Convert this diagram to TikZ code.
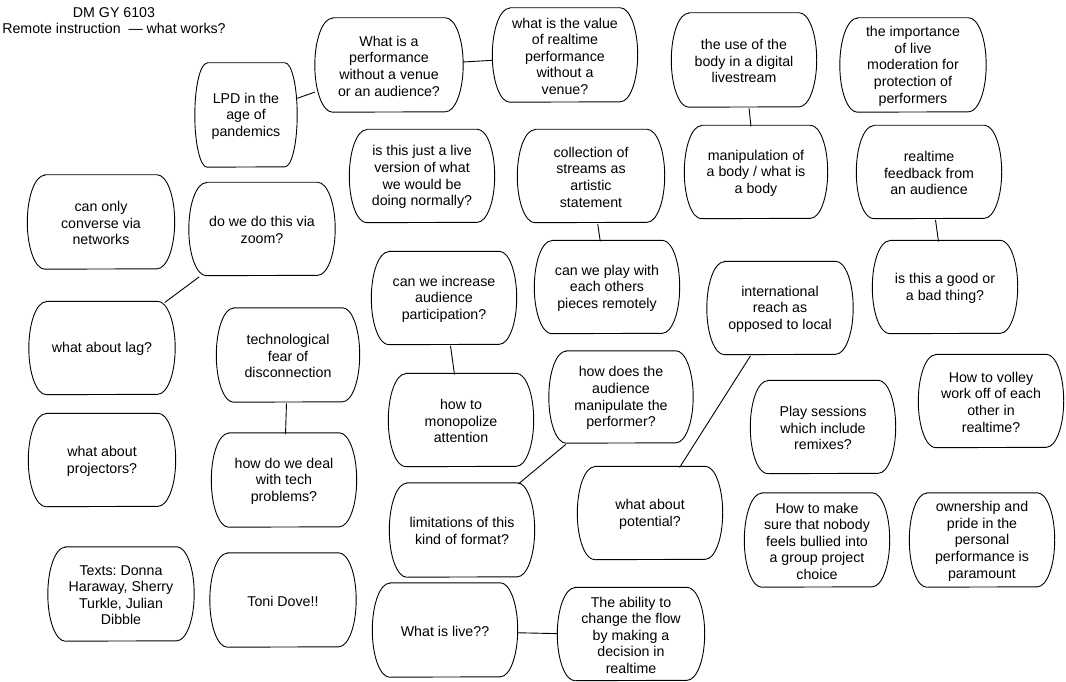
\documentclass[tikz,border=0pt]{standalone}
\usepackage{fontspec}
\setmainfont{Liberation Sans}
\frenchspacing
\begin{document}
\begin{tikzpicture}[x=1pt,y=1pt,
  txt/.style={font=\fontsize{14.2}{16.6}\selectfont, align=center, inner sep=0pt, text=black},
  shp/.style={draw=black, line width=0.9pt},
  conn/.style={draw=black, line width=0.9pt}]
\fill[white] (0,0) rectangle (1066,-682);
\useasboundingbox (0,0) rectangle (1066,-682);
\newcommand\bubble[6]{%
  \node[txt, minimum width=#4pt, minimum height=#5pt] (#1) at (#2,-#3-1.2) {#6};
  \pgfmathsetmacro\rr{0.12*#4}%
  \pgfmathsetmacro\hh{#5/2}%
  \draw[shp] ([xshift=\rr pt, yshift=1.2pt]#1.north west) -- ([xshift=-\rr pt, yshift=1.2pt]#1.north east)
     arc[start angle=90, end angle=-90, x radius=\rr pt, y radius=\hh pt]
     -- ([xshift=\rr pt, yshift=1.2pt]#1.south west)
     arc[start angle=270, end angle=90, x radius=\rr pt, y radius=\hh pt] -- cycle;
}
\node[txt] (title) at (114,-20.5) {DM GY 6103\\Remote instruction\ \ — what works?};
\bubble{lpd}{246}{115}{102}{104}{LPD in the\\age of\\pandemics}
\bubble{perf}{389}{65}{148}{94}{What is a\\performance\\without a venue\\or an audience?}
\bubble{value}{565}{55}{145}{94}{what is the value\\of realtime\\performance\\without a\\venue?}
\bubble{body}{744}{60}{145}{94}{the use of the\\body in a digital\\livestream}
\bubble{moder}{913}{65}{146}{94}{the importance\\of live\\moderation for\\protection of\\performers}
\bubble{just}{422}{176}{145}{93}{is this just a live\\version of what\\we would be\\doing normally?}
\bubble{coll}{591}{176}{147}{93}{collection of\\streams as\\artistic\\statement}
\bubble{manip}{756}{172}{143}{93}{manipulation of\\a body / what is\\a body}
\bubble{feed}{929}{172}{145}{93}{realtime\\feedback from\\an audience}
\bubble{good}{945}{287}{145}{93}{is this a good or\\a bad thing?}
\bubble{intl}{780}{308}{146}{93}{international\\reach as\\opposed to local}
\bubble{conv}{101}{222}{147}{94}{can only\\converse via\\networks}
\bubble{zoom}{262}{229}{146}{93}{do we do this via\\zoom?}
\bubble{lag}{102}{348}{146}{93}{what about lag?}
\bubble{fear}{288}{355}{143}{94}{technological\\fear of\\disconnection}
\bubble{proj}{102}{460}{147}{93}{what about\\projectors?}
\bubble{tech}{284}{480}{145}{94}{how do we deal\\with tech\\problems?}
\bubble{incr}{444}{298}{145}{93}{can we increase\\audience\\participation?}
\bubble{play}{607}{287}{145}{93}{can we play with\\each others\\pieces remotely}
\bubble{mono}{461}{420}{145}{93}{how to\\monopolize\\attention}
\bubble{aud}{621}{397}{144}{92}{how does the\\audience\\manipulate the\\performer?}
\bubble{lim}{462}{530}{145}{94}{limitations of this\\kind of format?}
\bubble{pot}{650}{513}{145}{93}{what about\\potential?}
\bubble{remix}{823}{427}{145}{93}{Play sessions\\which include\\remixes?}
\bubble{volley}{991}{401}{145}{93}{How to volley\\work off of each\\other in\\realtime?}
\bubble{bully}{817}{540}{145}{94}{How to make\\sure that nobody\\feels bullied into\\a group project\\choice}
\bubble{own}{982}{540}{145}{94}{ownership and\\pride in the\\personal\\performance is\\paramount}
\bubble{texts}{121}{594}{146}{94}{Texts: Donna\\Haraway, Sherry\\Turkle, Julian\\Dibble}
\bubble{toni}{283}{600}{146}{94}{Toni Dove!!}
\bubble{live}{445}{630}{145}{94}{What is live??}
\bubble{abil}{631}{634}{147}{93}{The ability to\\change the flow\\by making a\\decision in\\realtime}
\draw[conn] (lpd) -- (perf);
\draw[conn] (perf) -- (value);
\draw[conn] (body) -- (manip);
\draw[conn] (feed) -- (good);
\draw[conn] (coll) -- (play);
\draw[conn] (zoom) -- (lag);
\draw[conn] (fear) -- (tech);
\draw[conn] (incr) -- (mono);
\draw[conn] (aud) -- (lim);
\draw[conn] (intl) -- (pot);
\draw[conn] (live) -- (abil);
\end{tikzpicture}
\end{document}
